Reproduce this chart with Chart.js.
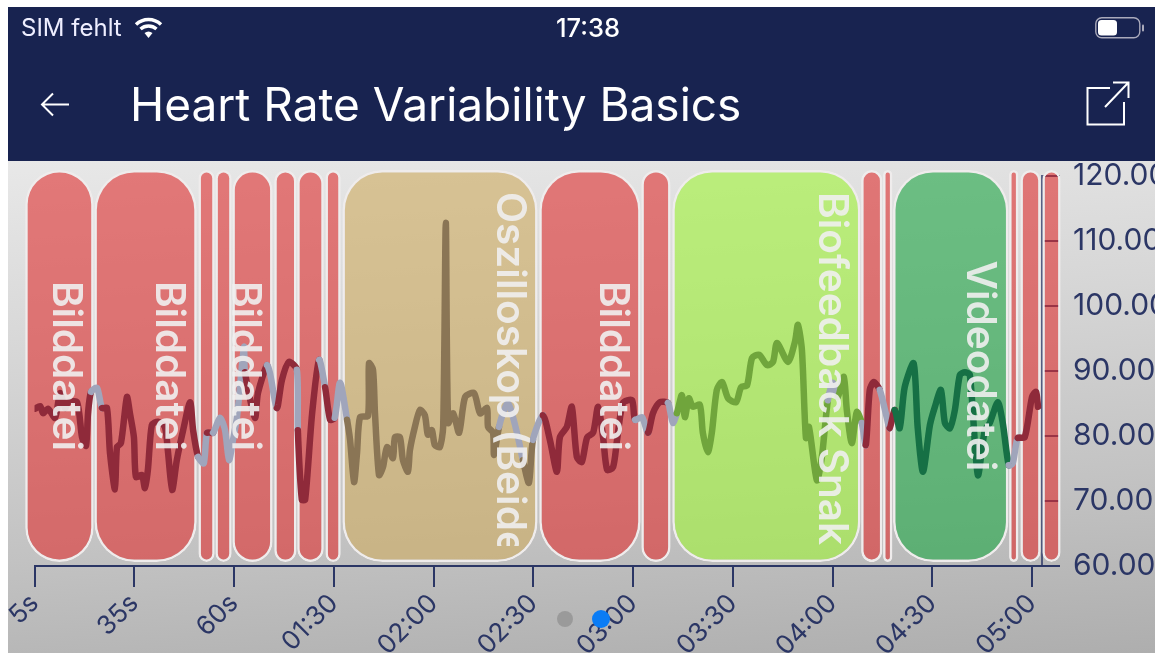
<!DOCTYPE html>
<html><head><meta charset="utf-8">
<style>
html,body{margin:0;padding:0;background:#fff;width:1155px;height:653px;overflow:hidden;font-family:Inter,Roboto,sans-serif}
#header{position:absolute;left:8px;top:7px;width:1147px;height:154px;background:#182350;color:#fff}
#stage{position:absolute;left:8px;top:161px;width:1147px;height:492px;background:linear-gradient(176deg,#e8e8e8 0%,#d6d6d6 35%,#c2c2c2 70%,#aeaeae 100%)}
canvas{position:absolute;left:0;top:0}
.t{position:absolute;white-space:nowrap;color:#fff}
.dot{position:absolute;border-radius:50%}
svg{position:absolute;overflow:visible}
</style></head><body>
<div id="header"></div>
<div id="stage"></div>
<canvas id="c" width="1155" height="653"></canvas>
<div class="t" style="left:21px;top:14px;font-size:24px;line-height:28px;color:#eef">SIM fehlt</div>
<svg style="left:134px;top:16px" width="30" height="24" viewBox="0 0 30 24"><g fill="none" stroke="#fff" stroke-width="3.4"><path d="M2 8.5a18 18 0 0 1 25 0"/><path d="M6.5 13a12 12 0 0 1 16 0"/></g><path d="M10.5 17a6.5 6.5 0 0 1 8 0L14.5 22z" fill="#fff"/></svg>
<div class="t" style="left:556px;top:14px;font-size:25.5px;line-height:28px;font-weight:500">17:38</div>
<svg style="left:1095px;top:17px" width="52" height="24" viewBox="0 0 52 24"><rect x="0.8" y="0.8" width="44" height="20" rx="6" fill="none" stroke="#aab" stroke-width="1.4"/><rect x="3" y="3" width="19" height="15.6" rx="3.5" fill="#fff"/><rect x="47" y="7.5" width="2" height="7" rx="1" fill="#aab"/></svg>
<svg style="left:40px;top:90px" width="32" height="28" viewBox="0 0 32 28"><path d="M29 14.5H2M13 3.5L2 14.5l11 11" fill="none" stroke="#fff" stroke-width="2"/></svg>
<div class="t" style="left:130px;top:72px;font-size:46px;line-height:64px;font-weight:400" id="title">Heart Rate Variability Basics</div>
<svg style="left:1086px;top:80px" width="44" height="46" viewBox="0 0 44 46"><path d="M24 8H1.5v36.5h36.5V22M19 27L42 3M27 2.5h15.5V18" fill="none" stroke="#fff" stroke-width="2"/></svg>
<div class="dot" style="left:557px;top:611px;width:16px;height:16px;background:#9a9a9a"></div>
<div class="dot" style="left:592px;top:610px;width:18px;height:18px;background:#0a7cf5;z-index:3"></div>
<script src="https://cdn.jsdelivr.net/npm/chart.js@4/dist/chart.umd.min.js"></script>
<script>
const tickSeconds = [5,35,65,95,125,155,185,215,245,275,305];
const tickLabels = ['5s','35s','60s','01:30','02:00','02:30','03:00','03:30','04:00','04:30','05:00'];

const lineSeconds = [5.2,6.7,7.6,9.1,11.2,12.7,14.2,15.1,17.8,19.3,20.5,21.1,22.0,23.8,25.3,26.8,27.7,29.2,29.8,31.0,32.8,33.7,34.9,35.5,37.3,38.2,39.1,40.3,42.1,44.2,45.1,46.4,47.8,49.7,51.8,52.7,54.2,55.9,56.9,58.7,60.8,62.3,63.5,64.7,65.9,68.0,68.3,71.3,72.2,74.9,75.8,77.9,79.4,81.5,83.9,84.2,85.4,86.4,88.5,90.6,92.4,93.9,95.3,96.9,99.0,99.9,101.1,102.0,102.9,105.3,105.6,106.8,107.4,108.6,109.8,111.0,112.8,113.4,114.9,115.8,117.3,117.9,119.4,120.9,122.4,123.3,124.5,125.4,126.9,127.9,128.7,129.4,130.9,132.7,134.5,137.2,139.0,141.1,141.4,142.9,143.2,144.7,145.9,147.4,148.9,150.4,151.9,153.7,154.9,157.9,160.0,162.1,163.0,165.1,166.6,168.1,169.6,171.2,173.0,174.5,176.0,177.2,179.0,180.2,182.0,184.7,185.6,187.7,189.5,191.0,193.1,195.5,196.1,197.0,198.2,199.7,200.6,201.8,203.0,205.1,206.0,207.5,208.7,210.2,211.8,213.6,216.0,217.5,219.3,220.8,222.9,225.3,227.1,228.3,231.6,233.7,234.6,235.8,237.0,237.9,240.3,241.8,243.6,245.1,246.6,248.4,249.3,250.8,252.3,253.8,255.0,256.2,257.4,259.2,261.3,262.2,263.7,265.2,266.7,269.4,270.6,272.2,274.3,275.8,277.6,278.8,280.3,281.8,283.3,284.8,286.3,288.7,290.8,292.3,294.7,296.2,298.0,299.2,300.7,302.8,305.0,306.2,306.8];
const lineBpm = [84.2,84.6,83.5,84.2,82.8,86.6,84.3,85.2,85.2,79.8,78.5,83.5,86.8,87.4,84.3,84.3,77.4,71.8,78.3,78.9,86.0,83.5,79.8,73.7,74.0,72.0,74.8,81.7,82.2,81.4,77.8,71.7,76.3,80.9,85.2,80.9,76.8,75.8,80.5,80.5,82.8,80.9,76.3,79.4,82.9,93.7,89.8,82.8,86.6,90.9,89.7,84.3,88.6,91.4,90.2,80.9,70.2,70.2,83.5,91.7,87.5,82.5,82.8,88.2,82.5,79.4,72.9,77.4,82.9,83.1,91.2,90.2,83.5,74.0,75.2,78.3,76.6,79.8,79.8,76.3,74.5,77.8,81.4,84.0,83.2,80.2,80.9,78.6,78.3,81.4,112.8,82.0,83.5,80.5,86.0,86.6,83.5,84.3,81.4,80.5,77.1,81.4,83.5,85.1,82.9,79.8,76.3,72.8,79.4,83.2,79.4,74.5,79.8,81.4,84.5,76.8,76.0,79.8,80.5,84.5,79.8,74.8,75.2,79.4,85.1,85.5,82.5,82.9,80.5,83.5,85.2,85.1,84.0,82.0,83.5,86.3,82.9,85.8,84.5,84.8,80.5,77.5,80.5,87.1,88.3,85.8,85.2,87.5,87.8,92.0,92.5,90.9,91.4,94.3,91.4,94.5,97.1,93.2,79.7,81.4,73.2,76.8,85.5,88.2,86.0,89.1,84.0,78.9,83.7,82.0,78.6,87.1,88.3,87.1,82.9,81.2,84.0,81.2,87.5,91.2,81.4,74.5,81.7,84.5,87.1,82.0,81.2,84.0,89.4,89.8,89.4,74.0,80.9,82.0,85.2,82.0,75.5,75.8,79.7,79.8,86.0,86.8,84.5];

const segmentStart = [2.2,23.0,54.3,59.4,64.5,77.1,84.0,92.5,97.6,156.8,187.5,196.8,253.6,260.2,263.2,298.1,301.5,308.1];
const segmentEnd   = [22.8,53.8,59.2,64.3,76.6,83.8,92.0,97.1,156.3,187.3,196.3,253.4,260.0,263.0,297.9,300.9,307.6,313.6];
const segmentKind  = ['image','image','image','image','image','image','image','image','scope','image','image','snake','image','image','video','image','image','image'];
const segmentLabel = ['Bilddatei','Bilddatei','','','Bilddatei','','','','Oszilloskop (Beide Hände)','Bilddatei','','Biofeedback Snake','','','Videodatei','','',''];

const neutralRanges = [[21.7,24.7],[53.9,56.9],[58.7,68.3],[74.9,78.2],[83.3,84.5],[91.5,93],[95.6,98.6],[145,151.6],[154.9,157.3],[186,188.6],[195.5,197.6],[243.3,246.6],[253.2,254.4],[259.2,262.8],[297.5,300.7]];

const kindFill = {image:'rgba(223,52,52,0.62)',scope:'rgba(207,172,98,0.62)',snake:'rgba(162,243,59,0.62)',video:'rgba(36,168,72,0.62)'};
const kindLine = {image:'#8f2a3a',scope:'#8a7555',snake:'#70a53c',video:'#167045'};
const neutralLine = '#a0a5bb';
const navy = '#2b3665';
const barCentre = 90.77;

function lineColor(ctx){
  const m=(ctx.p0.parsed.x+ctx.p1.parsed.x)/2;
  if(neutralRanges.some(r=>m>=r[0]&&m<=r[1])) return neutralLine;
  const i=segmentStart.findIndex((s,k)=>m>=s&&m<=segmentEnd[k]);
  return i<0?neutralLine:kindLine[segmentKind[i]];
}

const barLabels={id:'barLabels',afterDatasetsDraw(chart){
  const {ctx,scales:{x,y}}=chart;
  const top=y.getPixelForValue(barCentre)-196, bottom=top+392;
  segmentLabel.forEach((t,i)=>{
    if(!t) return;
    const r=x.getPixelForValue(segmentEnd[i]), l=x.getPixelForValue(segmentStart[i]);
    ctx.save();
    ctx.beginPath();ctx.rect(l,top+20,r-l,bottom-top-36);ctx.clip();
    ctx.font='600 40.5px Inter, Roboto, sans-serif';
    ctx.fillStyle='rgba(240,240,240,0.9)';
    const w=ctx.measureText(t).width;
    const avail=bottom-top-44;
    const start=w<avail?(top+bottom-w)/2:top+22;
    ctx.translate(r-41,start);
    ctx.rotate(Math.PI/2);
    ctx.textBaseline='alphabetic';ctx.textAlign='left';
    ctx.fillText(t,0,0);
    ctx.restore();
  });
}};

new Chart(document.getElementById('c'),{
  type:'bar',
  data:{datasets:[
    {type:'line',order:0,data:lineSeconds.map((s,i)=>({x:s,y:lineBpm[i]})),
     borderColor:neutralLine,borderWidth:6.5,pointRadius:0,tension:0.25,borderCapStyle:'round',borderJoinStyle:'round',
     segment:{borderColor:lineColor},fill:false},
    {type:'bar',order:1,indexAxis:'y',clip:false,grouped:false,barThickness:392,
     data:segmentStart.map((s,i)=>({x:[s,segmentEnd[i]],y:barCentre})),
     backgroundColor:segmentKind.map(k=>kindFill[k]),borderColor:'#efecec',borderWidth:2.5,
     borderRadius:40,borderSkipped:false,inflateAmount:0}
  ]},
  options:{
    responsive:false,animation:false,events:[],
    layout:{padding:{left:34.5,top:176,right:0,bottom:0}},
    plugins:{legend:{display:false},tooltip:{enabled:false}},
    scales:{
      x:{type:'linear',min:5,max:308,offset:false,position:'bottom',
        afterBuildTicks(s){s.ticks=tickSeconds.map(value=>({value}));},
        afterFit(s){s.height=87;},
        grid:{offset:false,drawOnChartArea:false,drawTicks:true,tickLength:21,color:navy,lineWidth:2},
        border:{display:true,color:navy,width:2},
        ticks:{autoSkip:false,minRotation:45,maxRotation:45,padding:1,color:navy,font:{family:'Inter, Roboto, sans-serif',size:26},
          callback(v,i){return tickLabels[i];}}},
      y:{type:'linear',min:60,max:120,offset:false,position:'right',
        afterFit(s){s.width=113;},
        grid:{offset:false,drawOnChartArea:false,drawTicks:true,tickLength:18,color:navy,lineWidth:2},
        border:{display:true,color:'rgba(43,54,101,0.75)',width:2},
        ticks:{stepSize:10,padding:13,color:navy,font:{family:'Inter, Roboto, sans-serif',size:30},
          callback(v){return v.toFixed(2);}}}
    }
  },
  plugins:[barLabels]
});
</script>
</body></html>
